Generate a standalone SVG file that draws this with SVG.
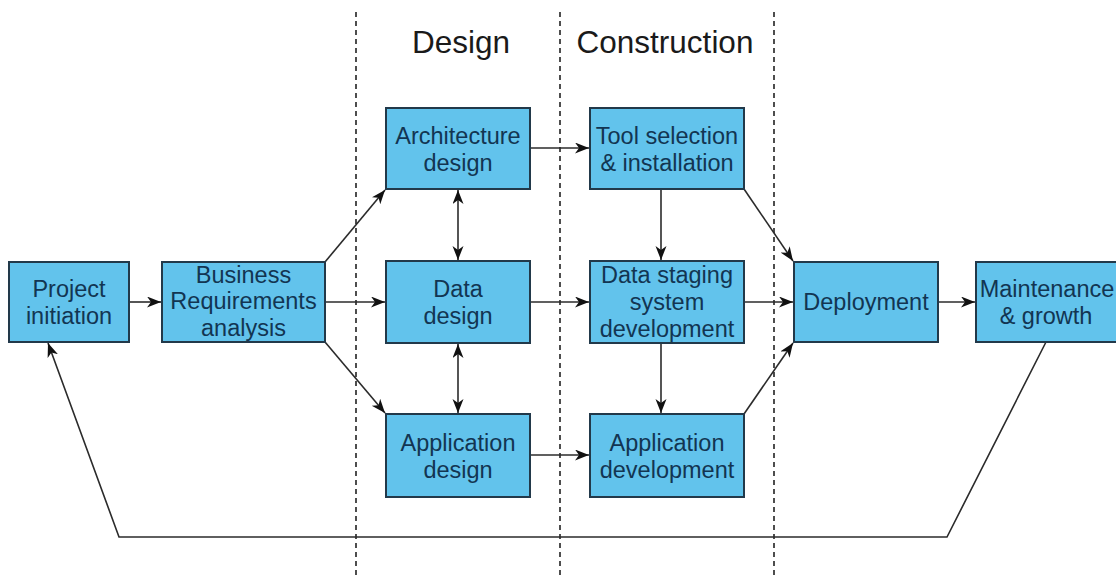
<svg xmlns="http://www.w3.org/2000/svg" width="1116" height="575" viewBox="0 0 1116 575">
<style>
.box{fill:#62c3ec;stroke:#22394a;stroke-width:2}
.t{font-family:"Liberation Sans",Arial,sans-serif;font-size:23.5px;fill:#123552;text-anchor:middle}
.h{font-family:"Liberation Sans",Arial,sans-serif;font-size:31.5px;fill:#1a1a1a;text-anchor:middle}
.c{fill:none;stroke:#2b2b2b;stroke-width:1.6}
.a{marker-end:url(#ah)}
.d{marker-start:url(#ah);marker-end:url(#ah)}
.dash{fill:none;stroke:#222;stroke-width:1.6;stroke-dasharray:5 4}
</style>
<defs>
<marker id="ah" markerUnits="userSpaceOnUse" markerWidth="16" markerHeight="12" refX="14" refY="5.5" orient="auto-start-reverse">
<path d="M0,0 L14,5.5 L0,11 L4,5.5 z" fill="#111"/>
</marker>
</defs>
<rect width="1116" height="575" fill="#ffffff"/>
<g id="phases">
<line class="dash" x1="356" y1="12" x2="356" y2="575"/>
<line class="dash" x1="560" y1="12" x2="560" y2="575"/>
<line class="dash" x1="774" y1="12" x2="774" y2="575"/>
<text class="h" x="461" y="53">Design</text>
<text class="h" x="665" y="53">Construction</text>
</g>
<g id="connectors">
<line class="c a" x1="129" y1="302" x2="161" y2="302"/>
<line class="c a" x1="325" y1="262" x2="385" y2="190"/>
<line class="c a" x1="325" y1="302" x2="385" y2="302"/>
<line class="c a" x1="325" y1="342" x2="385" y2="413"/>
<line class="c d" x1="458" y1="190" x2="458" y2="260"/>
<line class="c d" x1="458" y1="344" x2="458" y2="413"/>
<line class="c a" x1="530" y1="148" x2="589" y2="148"/>
<line class="c a" x1="530" y1="302" x2="589" y2="302"/>
<line class="c a" x1="530" y1="455" x2="589" y2="455"/>
<line class="c a" x1="661" y1="189" x2="661" y2="260"/>
<line class="c a" x1="661" y1="343" x2="661" y2="413"/>
<line class="c a" x1="744" y1="189" x2="793" y2="261"/>
<line class="c a" x1="744" y1="302" x2="793" y2="302"/>
<line class="c a" x1="744" y1="414" x2="793" y2="343"/>
<line class="c a" x1="938" y1="302" x2="975" y2="302"/>
<polyline class="c a" points="1046,342 947,537 119,537 48,343"/>
</g>
<g id="n1"><rect class="box" x="9" y="262" width="120" height="80"/><text class="t" x="69" y="297">Project</text><text class="t" x="69" y="324">initiation</text></g>
<g id="n2"><rect class="box" x="162" y="262" width="163" height="80"/><text class="t" x="243.5" y="283">Business</text><text class="t" x="243.5" y="309">Requirements</text><text class="t" x="243.5" y="336">analysis</text></g>
<g id="n3"><rect class="box" x="386" y="108" width="144" height="81"/><text class="t" x="458" y="143.5">Architecture</text><text class="t" x="458" y="170.5">design</text></g>
<g id="n4"><rect class="box" x="386" y="261" width="144" height="82"/><text class="t" x="458" y="297">Data</text><text class="t" x="458" y="324">design</text></g>
<g id="n5"><rect class="box" x="386" y="414" width="144" height="83"/><text class="t" x="458" y="450.5">Application</text><text class="t" x="458" y="477.5">design</text></g>
<g id="n6"><rect class="box" x="590" y="108" width="154" height="81"/><text class="t" x="667" y="143.5">Tool selection</text><text class="t" x="667" y="170.5">&amp; installation</text></g>
<g id="n7"><rect class="box" x="590" y="261" width="154" height="82"/><text class="t" x="667" y="283">Data staging</text><text class="t" x="667" y="310">system</text><text class="t" x="667" y="337">development</text></g>
<g id="n8"><rect class="box" x="590" y="414" width="154" height="83"/><text class="t" x="667" y="450.5">Application</text><text class="t" x="667" y="477.5">development</text></g>
<g id="n9"><rect class="box" x="794" y="262" width="144" height="80"/><text class="t" x="866" y="310">Deployment</text></g>
<g id="n10"><rect class="box" x="976" y="262" width="146" height="80"/><text class="t" x="1047" y="297">Maintenance</text><text class="t" x="1046" y="324">&amp; growth</text></g>
</svg>
